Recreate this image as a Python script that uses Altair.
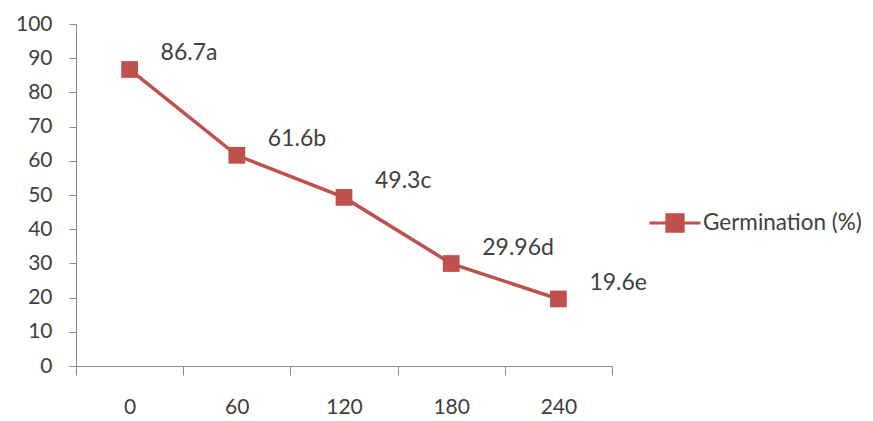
import altair as alt
import pandas as pd

categories = ["0", "60", "120", "180", "240"]
values = [86.7, 61.6, 49.3, 29.96, 19.6]
labels = ["86.7a", "61.6b", "49.3c", "29.96d", "19.6e"]
series_name = "Germination (%)"

df = pd.DataFrame({"time": categories, "value": values, "label": labels, "series": series_name})

RED = "#C0504D"
FONT = "Lato"
TXT = "#404040"
AX = "#8C8C8C"

x = alt.X("time:N", sort=categories, bandPosition=0.5,
          scale=alt.Scale(type="band", paddingInner=0, paddingOuter=0),
          axis=alt.Axis(title=None, labelAngle=0, tickBand="extent", grid=False,
                        domainColor=AX, tickColor=AX, tickSize=9, labelPadding=21,
                        labelFont=FONT, labelFontSize=21, labelColor=TXT))
y = alt.Y("value:Q", scale=alt.Scale(domain=[0, 100], nice=False),
          axis=alt.Axis(title=None, values=list(range(0, 101, 10)), grid=False,
                        domainColor=AX, tickColor=AX, tickSize=7, labelPadding=17,
                        labelFont=FONT, labelFontSize=21, labelColor=TXT))

color = alt.Color("series:N", scale=alt.Scale(range=[RED]),
                  legend=alt.Legend(title=None, orient="none", legendX=572, legendY=172,
                                    symbolType="M-1,0H1M-0.32,-0.32H0.32V0.32H-0.32Z",
                                    symbolSize=2600, symbolStrokeWidth=3,
                                    symbolFillColor=RED, symbolStrokeColor=RED,
                                    labelFont=FONT, labelFontSize=22.5, labelColor=TXT,
                                    labelOffset=1, labelLimit=300))

line = alt.Chart(df).mark_line(strokeWidth=3.5).encode(x=x, y=y, color=color)
pts = alt.Chart(df).mark_point(shape="square", filled=True, size=280, opacity=1).encode(
    x=x, y=y, color=alt.Color("series:N", scale=alt.Scale(range=[RED]), legend=None))
txt = alt.Chart(df).mark_text(align="left", baseline="middle", dx=31, dy=-16,
                              font=FONT, fontSize=23, color=TXT).encode(x=x, y=y, text="label:N")

chart = alt.layer(line, pts, txt).properties(
    width=536, height=342,
    autosize=alt.AutoSizeParams(type="none"),
    padding={"left": 76, "top": 24, "right": 261, "bottom": 55},
    background="white",
).configure_view(stroke=None)

chart.save("out.html", embed_options={"renderer": "svg", "actions": False})
